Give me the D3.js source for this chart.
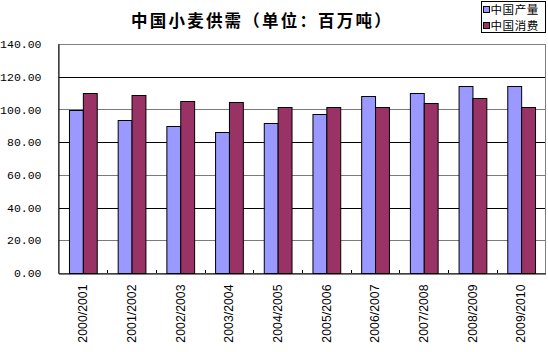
<!DOCTYPE html>
<head>
<meta charset="utf-8">
<title>中国小麦供需</title>
<script src="https://cdn.jsdelivr.net/npm/d3@7"></script>
<style>
  body { margin: 0; background: #fff; }
</style>
</head>
<body>
<div id="container"></div>
<script>

// Données
const years = ["2000/2001","2001/2002","2002/2003","2003/2004","2004/2005",
               "2005/2006","2006/2007","2007/2008","2008/2009","2009/2010"];
const production = [99.6, 93.5, 90.0, 86.5, 92.0, 97.4, 108.4, 110.0, 114.3, 114.3];
const consumption = [110.0, 108.7, 105.0, 104.5, 101.3, 101.3, 101.3, 104.1, 107.0, 101.5];
const seriesNames = ["中国产量", "中国消费"];
const seriesColors = ["#9999ff", "#993366"];
const yTicks = [0, 20, 40, 60, 80, 100, 120, 140];

const W = 548, H = 352;
const plotLeft = 58.5, plotRight = 545.5, plotTop = 44, plotBottom = 273;

const svg = d3.select("#container").append("svg")
  .attr("width", W).attr("height", H);

const x = d3.scaleBand().domain(years).range([plotLeft, plotRight]).padding(0);
const xs = d3.scaleBand().domain(seriesNames)
  .range([x.bandwidth() * 0.215, x.bandwidth() * 0.785]).padding(0);
const y = d3.scaleLinear().domain([0, 140]).range([plotBottom, plotTop]);

// Grille (alternance noir / gris comme l'original)
svg.append("g").selectAll("line")
  .data(yTicks)
  .join("line")
  .attr("x1", plotLeft).attr("x2", plotRight)
  .attr("y1", d => Math.round(y(d)) + 0.5).attr("y2", d => Math.round(y(d)) + 0.5)
  .attr("stroke", (d, i) => i % 2 === 0 ? "#000" : "#7a7a7a");

// Bordure de la zone de tracé
svg.append("rect")
  .attr("x", plotLeft).attr("y", Math.round(y(140)) + 0.5)
  .attr("width", plotRight - plotLeft).attr("height", Math.round(y(0)) - Math.round(y(140)))
  .attr("fill", "none").attr("stroke", "#808080");

// Barres
const rows = years.map((yr, i) => ({ yr, vals: [production[i], consumption[i]] }));
const groups = svg.append("g").selectAll("g")
  .data(rows)
  .join("g")
  .attr("transform", d => `translate(${x(d.yr)},0)`);

groups.selectAll("rect")
  .data(d => d.vals.map((v, k) => ({ v, k })))
  .join("rect")
  .attr("x", d => xs(seriesNames[d.k]) + 0.5)
  .attr("y", d => Math.round(y(d.v)) + 0.5)
  .attr("width", xs.bandwidth())
  .attr("height", d => Math.round(y(0)) - Math.round(y(d.v)))
  .attr("fill", d => seriesColors[d.k])
  .attr("stroke", "#000")
  .attr("stroke-width", 1);

// Axe Y
const yAxis = svg.append("g")
  .attr("transform", `translate(${plotLeft},0)`)
  .call(d3.axisLeft(y).tickValues(yTicks).tickFormat(d3.format(".2f")).tickSize(0).tickPadding(17));
yAxis.select(".domain").attr("stroke", "#000");
yAxis.selectAll("text")
  .attr("font-family", "Liberation Mono, monospace")
  .attr("font-size", 11.5)
  .attr("fill", "#000");

// Axe X
const xAxis = svg.append("g")
  .attr("transform", `translate(0,${Math.round(y(0)) + 0.5})`)
  .call(d3.axisBottom(x).tickSize(0).tickPadding(0));
xAxis.select(".domain").attr("stroke", "#000");
xAxis.selectAll("text")
  .attr("font-family", "Liberation Sans, Arial, sans-serif")
  .attr("font-size", 12.3)
  .attr("fill", "#000")
  .attr("transform", "rotate(-90)")
  .attr("x", -11).attr("y", 0).attr("dy", "0.35em")
  .style("text-anchor", "end");

// Petites graduations entre les catégories
svg.append("g").selectAll("line")
  .data(years.slice(1))
  .join("line")
  .attr("x1", d => Math.round(x(d)) + 0.5).attr("x2", d => Math.round(x(d)) + 0.5)
  .attr("y1", Math.round(y(0))).attr("y2", Math.round(y(0)) - 3)
  .attr("stroke", "#000");

// Titre
svg.append("text")
  .attr("x", 262).attr("y", 27)
  .attr("text-anchor", "middle")
  .attr("font-family", "Noto Sans CJK SC, sans-serif")
  .attr("font-weight", "bold")
  .attr("font-size", 16.5)
  .attr("letter-spacing", 2.2)
  .text("中国小麦供需（单位：百万吨）");

// Légende
const lg = svg.append("g");
lg.append("rect")
  .attr("x", 481.5).attr("y", 1.5).attr("width", 64).attr("height", 31)
  .attr("fill", "#fff").attr("stroke", "#000");
seriesNames.forEach((name, i) => {
  lg.append("rect")
    .attr("x", 483.5).attr("y", 6.5 + i * 16).attr("width", 6).attr("height", 6)
    .attr("fill", seriesColors[i]).attr("stroke", "#000");
  lg.append("text")
    .attr("x", 490.5).attr("y", 14 + i * 16)
    .attr("font-family", "Noto Sans CJK SC, sans-serif")
    .attr("font-size", 11.5)
    .attr("letter-spacing", 0.6)
    .text(name);
});

</script>
</body>
